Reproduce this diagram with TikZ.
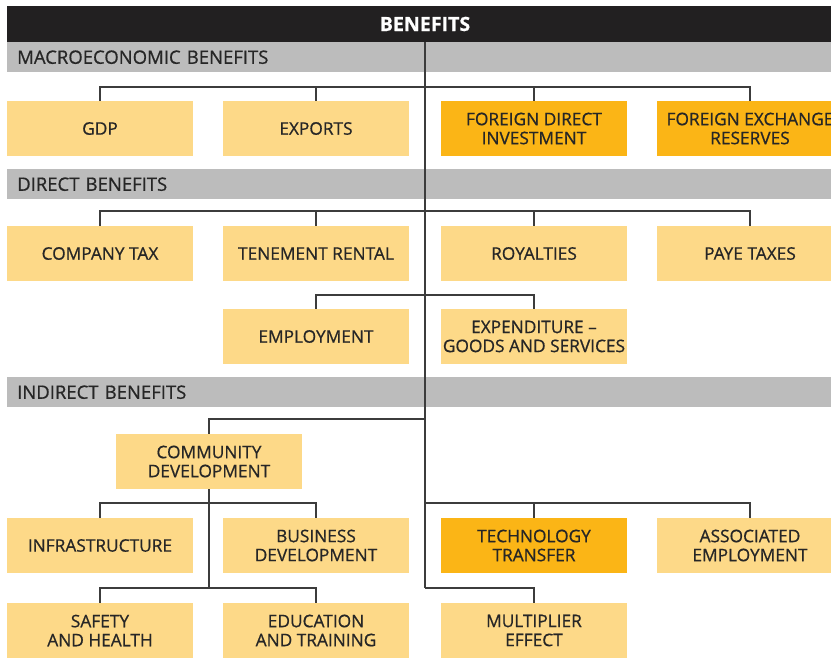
\documentclass[tikz,border=0pt]{standalone}
\usepackage{fontspec}
\setmainfont{Open Sans}[RawFeature={embolden=0.7}]
\definecolor{lightbox}{HTML}{FDD988}
\definecolor{darkbox}{HTML}{FBB516}
\definecolor{bargray}{HTML}{BCBCBC}
\definecolor{headblack}{HTML}{222021}
\definecolor{txt}{HTML}{262626}
\definecolor{ln}{HTML}{3C3C3C}
\begin{document}
\begin{tikzpicture}[x=1pt,y=-1pt,
  box/.style={fill=lightbox, minimum width=186pt, minimum height=55pt, inner sep=0pt,
    align=center, font=\fontsize{17.3}{19}\selectfont, text=txt},
  hbox/.style={box, fill=darkbox},
  bar/.style={fill=bargray, anchor=north west, minimum height=30pt, text width=816pt,
    inner xsep=10pt, inner ysep=0pt, align=left, text=txt, font=\fontsize{18.5}{20}\selectfont},
  conn/.style={draw=ln, line width=1.1pt}]
\useasboundingbox (0,0) rectangle (831,657);
\clip (0,0) rectangle (831,657);
% header and section bars
\node[fill=headblack, minimum width=836pt, minimum height=36pt, inner sep=0pt,
  text=white, font=\fontsize{19.6}{22}\selectfont\bfseries] (header) at (425,24) {BENEFITS};
\node[bar] (macro) at (7,42) {MACROECONOMIC BENEFITS};
\node[bar] (direct) at (7,169) {DIRECT BENEFITS};
\node[bar] (indirect) at (7,377) {INDIRECT BENEFITS};
% boxes
\node[box]  (gdp)     at (100,128.5) {GDP};
\node[box]  (exports) at (316,128.5) {EXPORTS};
\node[hbox] (fdi)     at (534,128.5) {FOREIGN DIRECT\\INVESTMENT};
\node[hbox] (fx)      at (750,128.5) {FOREIGN EXCHANGE\\RESERVES};
\node[box]  (ctax)    at (100,253.5) {COMPANY TAX};
\node[box]  (rental)  at (316,253.5) {TENEMENT RENTAL};
\node[box]  (roy)     at (534,253.5) {ROYALTIES};
\node[box]  (paye)    at (750,253.5) {PAYE TAXES};
\node[box]  (empl)    at (316,336.5) {EMPLOYMENT};
\node[box]  (expend)  at (534,336.5) {EXPENDITURE –\\GOODS AND SERVICES};
\node[box]  (comm)    at (209,461.5) {COMMUNITY\\DEVELOPMENT};
\node[box]  (infra)   at (100,545.5) {INFRASTRUCTURE};
\node[box]  (busdev)  at (316,545.5) {BUSINESS\\DEVELOPMENT};
\node[hbox] (tech)    at (534,545.5) {TECHNOLOGY\\TRANSFER};
\node[box]  (assoc)   at (750,545.5) {ASSOCIATED\\EMPLOYMENT};
\node[box]  (safety)  at (100,630.5) {SAFETY\\AND HEALTH};
\node[box]  (edu)     at (316,630.5) {EDUCATION\\AND TRAINING};
\node[box]  (mult)    at (534,630.5) {MULTIPLIER\\EFFECT};
% trunk junctions
\coordinate (j1) at (425,87);
\coordinate (j2) at (425,211);
\coordinate (j3) at (425,295);
\coordinate (j4) at (425,419);
\coordinate (j5) at (425,503);
\coordinate (jb) at (425,588);
\coordinate (k1) at (209,503);
\coordinate (k2) at (209,588);
% connectors
\draw[conn] (header.south) -- (jb);
\foreach \n in {gdp,exports,fdi,fx} \draw[conn] (j1) -| (\n.north);
\foreach \n in {ctax,rental,roy,paye} \draw[conn] (j2) -| (\n.north);
\foreach \n in {empl,expend} \draw[conn] (j3) -| (\n.north);
\draw[conn] (j4) -| (comm.north);
\foreach \n in {tech,assoc} \draw[conn] (j5) -| (\n.north);
\draw[conn] (jb) -| (mult.north);
\draw[conn] (comm.south) -- (k2);
\foreach \n in {infra,busdev} \draw[conn] (k1) -| (\n.north);
\foreach \n in {safety,edu} \draw[conn] (k2) -| (\n.north);
\end{tikzpicture}
\end{document}
